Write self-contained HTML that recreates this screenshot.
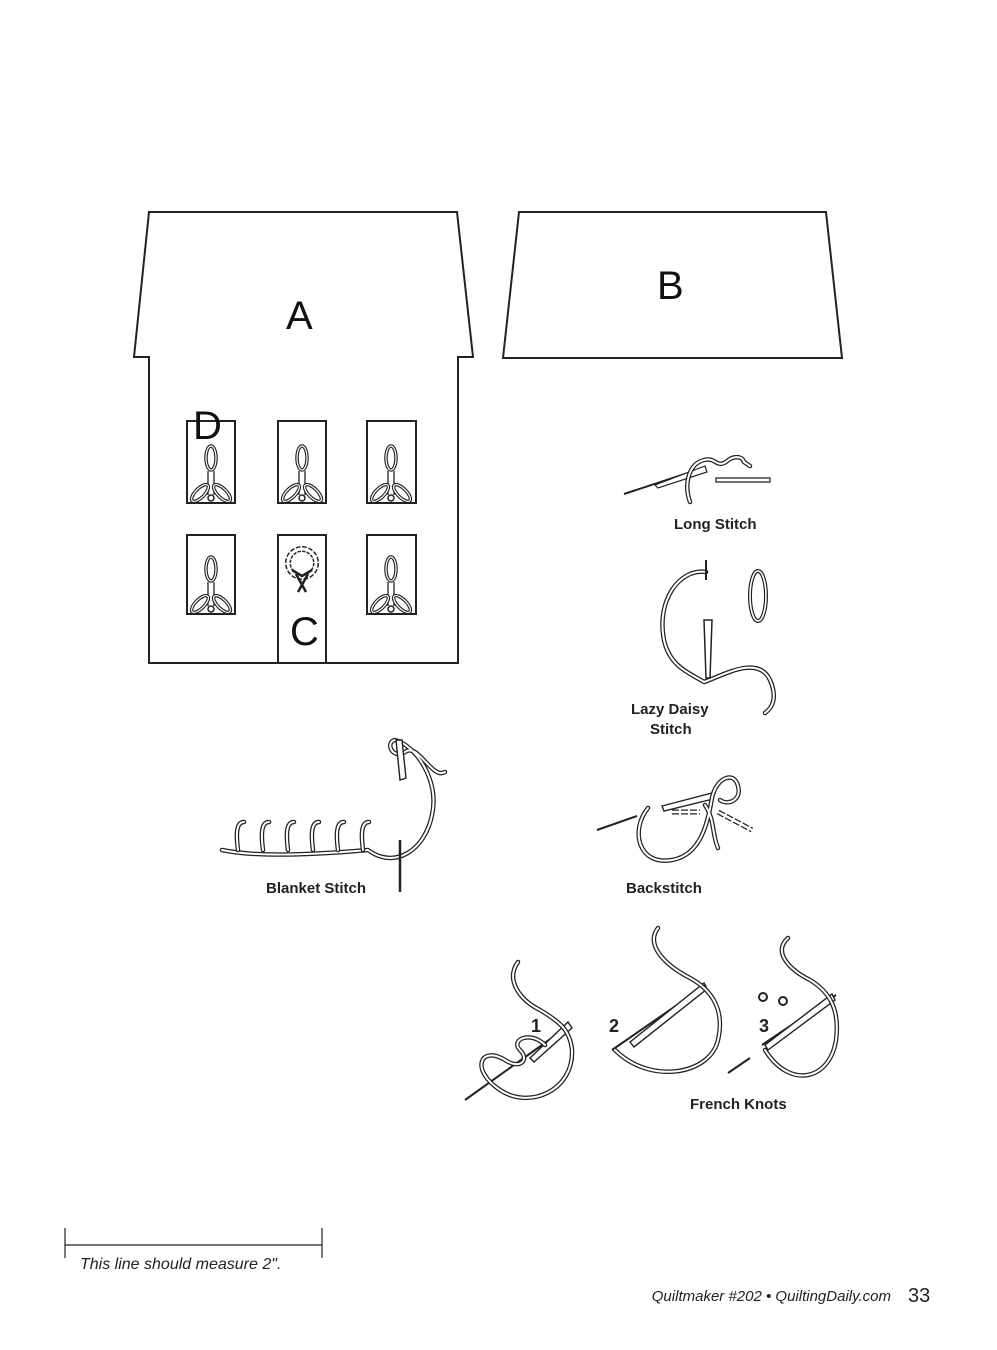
<!DOCTYPE html>
<html><head><meta charset="utf-8"><style>
html,body{margin:0;padding:0;background:#fff;}
body{width:997px;height:1350px;position:relative;overflow:hidden;font-family:"Liberation Sans",sans-serif;}
svg{position:absolute;left:0;top:0;}
.t{fill:none;stroke:#222;stroke-width:4.5;stroke-linecap:round;stroke-linejoin:round;}
.w{fill:none;stroke:#fff;stroke-width:2;stroke-linecap:round;stroke-linejoin:round;}
.l{fill:none;stroke:#222;stroke-width:2;}
.lab{font-family:"Liberation Sans",sans-serif;font-weight:bold;font-size:15px;fill:#222;}
.big{font-family:"Liberation Sans",sans-serif;font-size:40px;fill:#111;}
</style></head><body>
<svg width="997" height="1350" viewBox="0 0 997 1350">
<defs>
<g id="flower">
 <ellipse cx="0" cy="-45" rx="5" ry="12" fill="none" stroke="#222" stroke-width="3.5"/>
 <ellipse cx="0" cy="-45" rx="5" ry="12" fill="none" stroke="#fff" stroke-width="1.2"/>
 <path d="M-3,-32 L-3,-8 M3,-32 L3,-8" stroke="#222" stroke-width="1.3"/>
 <ellipse cx="-11" cy="-10" rx="4.5" ry="11" transform="rotate(45 -11 -10)" fill="none" stroke="#222" stroke-width="3.5"/>
 <ellipse cx="-11" cy="-10" rx="4.5" ry="11" transform="rotate(45 -11 -10)" fill="none" stroke="#fff" stroke-width="1.2"/>
 <ellipse cx="11" cy="-10" rx="4.5" ry="11" transform="rotate(-45 11 -10)" fill="none" stroke="#222" stroke-width="3.5"/>
 <ellipse cx="11" cy="-10" rx="4.5" ry="11" transform="rotate(-45 11 -10)" fill="none" stroke="#fff" stroke-width="1.2"/>
 <circle cx="0" cy="-5" r="3" fill="#fff" stroke="#222" stroke-width="1.5"/>
</g>
<path id="p1" d="M690,502 C684,485 688,464 704,460 C716,457 716,468 726,462 C732,456 742,455 744,462 L750,466"/>
<path id="p2" d="M706,572 C680,568 656,600 664,640 C670,668 692,674 704,682 C722,676 758,654 770,680 C778,698 772,708 765,713"/>
<path id="p3" d="M222,850 C250,856 300,856 368,850 C395,870 425,850 432,815 C440,780 415,745 395,740 C385,742 392,760 405,752 C418,742 432,780 445,772"/>
<path id="p4" d="M238,850 C236,835 236,822 244,822 M263,850 C261,835 261,822 269,822 M288,850 C286,835 286,822 294,822 M313,850 C311,835 311,822 319,822 M338,850 C336,835 336,822 344,822 M363,850 C361,835 361,822 369,822"/>
<path id="p5" d="M648,808 C630,830 638,866 672,860 C702,855 708,820 712,798 C716,778 734,770 738,786 C742,800 728,806 720,800 M705,805 C715,820 712,835 718,848"/>
<path id="p6" d="M518,962 C505,980 520,1000 540,1010 C560,1022 570,1030 572,1050 C574,1090 530,1110 500,1090 C470,1070 480,1045 505,1060 C520,1070 530,1060 520,1050 C510,1040 530,1030 545,1045"/>
<path id="p7" d="M658,928 C645,945 665,965 690,978 C712,990 725,1010 718,1040 C710,1075 650,1085 615,1050"/>
<path id="p8" d="M788,938 C772,952 790,970 810,980 C830,992 840,1010 836,1040 C830,1080 790,1090 765,1050"/>
</defs>
<!-- House A -->
<polygon points="149,212 457,212 473,357 458,357 458,663 149,663 149,357 134,357" fill="none" stroke="#222" stroke-width="2"/>
<polygon points="519,212 826,212 842,358 503,358" fill="none" stroke="#222" stroke-width="2"/>
<text class="big" x="286" y="329">A</text>
<text class="big" x="657" y="299">B</text>
<rect x="187" y="421" width="48" height="82" fill="none" stroke="#222" stroke-width="2"/>
<rect x="278" y="421" width="48" height="82" fill="none" stroke="#222" stroke-width="2"/>
<rect x="367" y="421" width="49" height="82" fill="none" stroke="#222" stroke-width="2"/>
<rect x="187" y="535" width="48" height="79" fill="none" stroke="#222" stroke-width="2"/>
<rect x="367" y="535" width="49" height="79" fill="none" stroke="#222" stroke-width="2"/>
<rect x="278" y="535" width="48" height="128" fill="none" stroke="#222" stroke-width="2"/>
<use href="#flower" x="211" y="503"/><use href="#flower" x="302" y="503"/><use href="#flower" x="391" y="503"/>
<use href="#flower" x="211" y="614"/><use href="#flower" x="391" y="614"/>
<circle cx="302" cy="563" r="14" fill="none" stroke="#222" stroke-width="6" stroke-dasharray="4 1.5"/>
<circle cx="302" cy="563" r="14" fill="none" stroke="#fff" stroke-width="3"/>
<path d="M296,574 L306,592 M308,574 L298,592 M292,570 L302,576 L312,570" stroke="#222" stroke-width="2.5" fill="none"/>
<text class="big" x="193" y="439">D</text>
<text class="big" x="290" y="645">C</text>
<!-- Long stitch -->
<line x1="624" y1="494" x2="700" y2="469" stroke="#222" stroke-width="2"/>
<polygon points="655,485 705,466 707,472 658,488" fill="#fff" stroke="#222" stroke-width="1.2"/>
<use href="#p1" class="t"/><use href="#p1" class="w"/>
<path d="M716,478 L770,478 L770,482 L716,482 Z" fill="#fff" stroke="#222" stroke-width="1.2"/>
<text class="lab" x="674" y="529">Long Stitch</text>
<!-- Lazy daisy -->
<use href="#p2" class="t"/><use href="#p2" class="w"/>
<polygon points="704,620 712,620 710,678 706,678" fill="#fff" stroke="#222" stroke-width="1.5"/>
<line x1="706" y1="560" x2="706" y2="580" stroke="#222" stroke-width="2"/>
<ellipse cx="758" cy="596" rx="8" ry="25" fill="none" stroke="#222" stroke-width="4"/>
<ellipse cx="758" cy="596" rx="8" ry="25" fill="none" stroke="#fff" stroke-width="1.6"/>
<text class="lab" x="631" y="714">Lazy Daisy</text>
<text class="lab" x="650" y="734">Stitch</text>
<!-- Blanket -->
<use href="#p3" class="t"/><use href="#p3" class="w"/>
<use href="#p4" class="t"/><use href="#p4" class="w"/>
<polygon points="396,740 402,740 406,778 400,780" fill="#fff" stroke="#222" stroke-width="1.4"/>
<line x1="400" y1="840" x2="400" y2="892" stroke="#222" stroke-width="2.5"/>
<text class="lab" x="266" y="893">Blanket Stitch</text>
<!-- Backstitch -->
<line x1="597" y1="830" x2="637" y2="816" stroke="#222" stroke-width="2"/>
<polygon points="662,806 712,793 713,799 664,811" fill="#fff" stroke="#222" stroke-width="1.4"/>
<use href="#p5" class="t"/><use href="#p5" class="w"/>
<path d="M672,812 L700,812 M718,812 L752,830" stroke="#222" stroke-width="5" stroke-dasharray="7 2"/>
<path d="M672,812 L700,812 M718,812 L752,830" stroke="#fff" stroke-width="2.5"/>
<text class="lab" x="626" y="893">Backstitch</text>
<!-- French knots -->
<line x1="465" y1="1100" x2="570" y2="1025" stroke="#222" stroke-width="2"/>
<polygon points="530,1058 568,1022 572,1028 534,1062" fill="#fff" stroke="#222" stroke-width="1.4"/>
<use href="#p6" class="t"/><use href="#p6" class="w"/>
<line x1="612" y1="1050" x2="706" y2="985" stroke="#222" stroke-width="2"/>
<polygon points="630,1042 704,983 707,989 634,1047" fill="#fff" stroke="#222" stroke-width="1.4"/>
<use href="#p7" class="t"/><use href="#p7" class="w"/>
<line x1="728" y1="1073" x2="750" y2="1058" stroke="#222" stroke-width="2"/>
<line x1="762" y1="1045" x2="836" y2="995" stroke="#222" stroke-width="2"/>
<polygon points="765,1045 832,994 835,1000 768,1050" fill="#fff" stroke="#222" stroke-width="1.4"/>
<use href="#p8" class="t"/><use href="#p8" class="w"/>
<circle cx="763" cy="997" r="4" fill="#fff" stroke="#222" stroke-width="2"/>
<circle cx="783" cy="1001" r="4" fill="#fff" stroke="#222" stroke-width="2"/>
<text class="lab" x="531" y="1032" style="font-size:18px">1</text>
<text class="lab" x="609" y="1032" style="font-size:18px">2</text>
<text class="lab" x="759" y="1032" style="font-size:18px">3</text>
<text class="lab" x="690" y="1109">French Knots</text>
<!-- measure line -->
<line x1="65" y1="1245" x2="322" y2="1245" stroke="#222" stroke-width="1.2"/>
<line x1="65" y1="1228" x2="65" y2="1258" stroke="#222" stroke-width="1.2"/>
<line x1="322" y1="1228" x2="322" y2="1258" stroke="#222" stroke-width="1.2"/>
<text x="80" y="1269" style="font-style:italic;font-size:16px;fill:#222">This line should measure 2".</text>
<text x="891" y="1301" text-anchor="end" style="font-style:italic;font-size:15px;fill:#222">Quiltmaker #202 • QuiltingDaily.com</text>
<text x="908" y="1302" style="font-size:20px;fill:#222">33</text>
</svg>
</body></html>
